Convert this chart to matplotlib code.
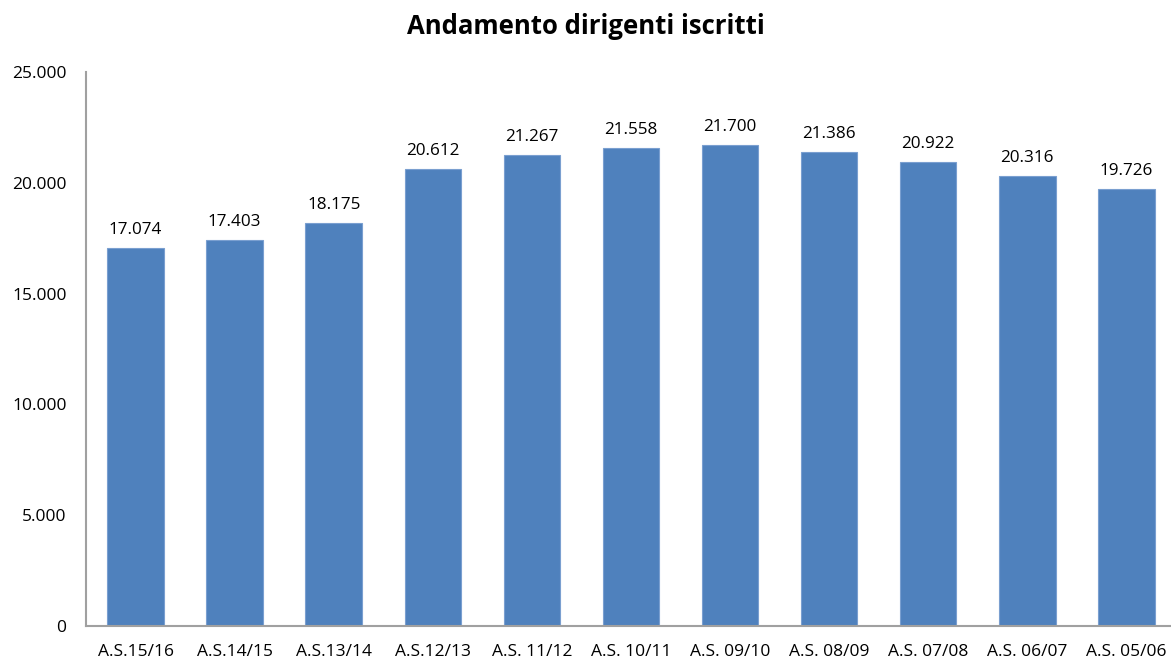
import matplotlib
matplotlib.use("Agg")
import matplotlib.pyplot as plt
from matplotlib.ticker import FuncFormatter

categories = ["A.S.15/16", "A.S.14/15", "A.S.13/14", "A.S.12/13", "A.S. 11/12",
              "A.S. 10/11", "A.S. 09/10", "A.S. 08/09", "A.S. 07/08", "A.S. 06/07", "A.S. 05/06"]
values = [17074, 17403, 18175, 20612, 21267, 21558, 21700, 21386, 20922, 20316, 19726]
title = "Andamento dirigenti iscritti"

def fmt(v):
    return f"{int(v):,}".replace(",", ".")

plt.rcParams['font.family'] = ['Open Sans', 'DejaVu Sans']

fig = plt.figure(figsize=(11.71, 6.58), dpi=100)
ax = fig.add_axes([86/1171, 1 - 626/658, 1 - 86/1171, (626 - 72)/658])

x = list(range(len(categories)))
ax.bar(x, values, width=0.57, color="#4F81BD", edgecolor="#7A9FD0", linewidth=0.8, zorder=2)
for xi, v in zip(x, values):
    ax.text(xi, v + 450, fmt(v), ha="center", va="bottom", fontsize=12.3, color="#000000")

ax.set_xlim(-0.5, 10.45)
ax.set_ylim(0, 25000)
ax.set_yticks([0, 5000, 10000, 15000, 20000, 25000])
ax.yaxis.set_major_formatter(FuncFormatter(lambda v, p: fmt(v)))
ax.set_xticks(x)
ax.set_xticklabels(categories)
ax.tick_params(axis="both", length=0, labelsize=12.5, colors="#000000")
ax.tick_params(axis="y", pad=14)
ax.tick_params(axis="x", pad=13)
for s in ["top", "right"]:
    ax.spines[s].set_visible(False)
for s in ["left", "bottom"]:
    ax.spines[s].set_color("#A0A0A0")
    ax.spines[s].set_linewidth(1.5)

fig.text(0.5, 1 - 27/658, title, ha="center", va="center", fontsize=18.5, fontweight="bold")

fig.savefig("out.png", dpi=100)
